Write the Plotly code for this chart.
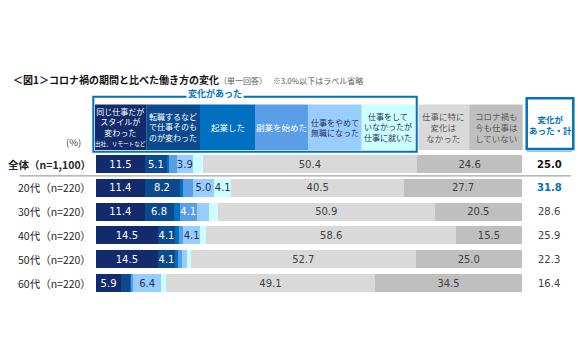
import plotly.graph_objects as go

# ---------------- data ----------------
categories = ["全体（n=1,100）", "20代（n=220）", "30代（n=220）", "40代（n=220）", "50代（n=220）", "60代（n=220）"]
series_names = [
    "同じ仕事だがスタイルが変わった",
    "転職するなどで仕事そのものが変わった",
    "起業した",
    "副業を始めた",
    "仕事をやめて無職になった",
    "仕事をしていなかったが仕事に就いた",
    "仕事に特に変化はなかった",
    "コロナ禍も今も仕事はしていない",
]
same_job_style = [11.5, 11.4, 11.4, 14.5, 14.5, 5.9]
job_changed = [5.1, 8.2, 6.8, 4.1, 4.1, 2.3]
started_business = [0.6, 0.9, 1.4, 0.9, 0.6, 0.2]
side_job = [1.7, 2.2, 4.1, 0.9, 1.0, 0.4]
quit_job = [3.9, 5.0, 2.8, 4.1, 1.2, 6.4]
got_job = [2.2, 4.1, 2.1, 1.4, 0.9, 1.2]
no_change = [50.4, 40.5, 50.9, 58.6, 52.7, 49.1]
no_work = [24.6, 27.7, 20.5, 15.5, 25.0, 34.5]
changed_total = [25.0, 31.8, 28.6, 25.9, 22.3, 16.4]

header_texts = [
    "同じ仕事だが<br>スタイルが<br>変わった<br><span style='font-size:5.6px'>出社、リモートなど</span>",
    "転職するなど<br>で仕事そのも<br>のが変わった",
    "起業した",
    "副業を始めた",
    "仕事をやめて<br>無職になった",
    "仕事をして<br>いなかったが<br>仕事に就いた",
    "仕事に特に<br>変化は<br>なかった",
    "コロナ禍も<br>今も仕事は<br>していない",
]

# ---------------- style ----------------
colors = ["#112b6c", "#0b4a8e", "#0070c0", "#5b9ee8", "#99ccff", "#ccffff", "#d9d9d9", "#bfbfbf"]
text_colors = ["white", "white", "white", "white", "#1f3060", "#1f3060", "#404040", "#404040"]
header_text_colors = ["white", "white", "white", "white", "#1f3060", "#1f3060", "#595959", "#595959"]
header_sizes = [8, 8, 8.5, 8.5, 8, 8, 8.5, 8.5]
BLUE = "#0070c0"
JP = "Noto Sans CJK JP"
NUM = "Verdana, DejaVu Sans"

W, H = 580, 360
def px(x):
    return x / W
def py(y):
    return 1 - y / H

all_series = [same_job_style, job_changed, started_business, side_job, quit_job, got_job, no_change, no_work]

fig = go.Figure()
for name, vals, col, tcol in zip(series_names, all_series, colors, text_colors):
    labels = [f"{v:.1f}" if v > 3.0 else "" for v in vals]
    fig.add_trace(go.Bar(
        y=categories, x=vals, name=name, orientation="h",
        marker=dict(color=col, line=dict(width=0)),
        text=labels, textposition="inside", insidetextanchor="middle",
        textangle=0, constraintext="none", cliponaxis=False,
        textfont=dict(family=NUM, size=10, color=tcol),
        hoverinfo="skip",
    ))

fig.update_layout(
    width=W, height=H, barmode="stack", bargap=0.24,
    margin=dict(l=0, r=0, t=0, b=0),
    paper_bgcolor="white", plot_bgcolor="white",
    showlegend=False,
    uniformtext=dict(mode=False),
    xaxis=dict(domain=[px(96), px(522)], range=[0, 100], visible=False, fixedrange=True),
    yaxis=dict(domain=[py(294.9), py(152.1)], categoryorder="array", categoryarray=categories,
               autorange="reversed", visible=False, fixedrange=True),
)

annotations = []
shapes = []

# category labels
for i, c in enumerate(categories):
    txt = f"<b>{c}</b>" if i == 0 else c
    annotations.append(dict(x=px(93), xref="paper", y=c, yref="y", text=txt, showarrow=False,
                            xanchor="right", yanchor="middle",
                            font=dict(family=JP, size=10.5, color="#262626")))

# totals column
for i, (c, v) in enumerate(zip(categories, changed_total)):
    if i == 0:
        txt, col = f"<b>{v:.1f}</b>", "#111111"
    elif v == max(changed_total[1:]):
        txt, col = f"<b>{v:.1f}</b>", BLUE
    else:
        txt, col = f"{v:.1f}", "#404040"
    annotations.append(dict(x=px(549), xref="paper", y=c, yref="y", text=txt, showarrow=False,
                            xanchor="center", yanchor="middle",
                            font=dict(family=NUM, size=10, color=col)))

# separator under 全体
shapes.append(dict(type="line", xref="paper", yref="y", x0=px(20), x1=px(571),
                   y0=0.5, y1=0.5, line=dict(color="#8c8c8c", width=1)))

# header cells
cell_edges = [(95, 146.7), (146.7, 200), (200, 255), (255, 308.3), (308.3, 361.7), (361.7, 415),
              (418.3, 469.3), (469.3, 522.7)]
for (x0, x1), col, txt, tcol, fs in zip(cell_edges, colors, header_texts, header_text_colors, header_sizes):
    shapes.append(dict(type="rect", xref="paper", yref="paper", x0=px(x0), x1=px(x1),
                       y0=py(150), y1=py(104.5), fillcolor=col, line=dict(width=0), layer="below"))
    annotations.append(dict(x=px((x0 + x1) / 2), y=py(127.3), xref="paper", yref="paper",
                            text=txt, showarrow=False, xanchor="center", yanchor="middle",
                            font=dict(family=JP, size=fs, color=tcol)))

# outline around "変化があった" group
shapes.append(dict(type="rect", xref="paper", yref="paper", x0=px(93.3), x1=px(416.7),
                   y0=py(151.7), y1=py(96.7), line=dict(color=BLUE, width=2), fillcolor="rgba(0,0,0,0)"))
annotations.append(dict(x=px(215), y=py(94), xref="paper", yref="paper", text="<b>変化があった</b>",
                        showarrow=False, xanchor="center", yanchor="middle", bgcolor="white",
                        borderpad=1, font=dict(family=JP, size=9, color=BLUE)))

# total box header
shapes.append(dict(type="rect", xref="paper", yref="paper", x0=px(526.7), x1=px(573.3),
                   y0=py(149), y1=py(98.3), line=dict(color=BLUE, width=2.5), fillcolor="white"))
shapes.append(dict(type="line", xref="paper", yref="paper", x0=px(527), x1=px(572),
                   y0=py(151.3), y1=py(151.3), line=dict(color="#9dc3e6", width=1.5)))
annotations.append(dict(x=px(550), y=py(124), xref="paper", yref="paper", text="<b>変化が<br>あった・計</b>",
                        showarrow=False, xanchor="center", yanchor="middle",
                        font=dict(family=JP, size=8.5, color=BLUE)))

# (%) label
annotations.append(dict(x=px(73), y=py(142), xref="paper", yref="paper", text="(%)", showarrow=False,
                        xanchor="center", yanchor="middle", font=dict(family=JP, size=9.5, color="#404040")))

# title
annotations.append(dict(x=px(11), y=py(79), xref="paper", yref="paper",
                        text="<b>＜図1＞コロナ禍の期間と比べた働き方の変化</b>"
                             "<span style='font-size:8px;color:#595959'>（単一回答）　 ※3.0%以下はラベル省略</span>",
                        showarrow=False, xanchor="left", yanchor="middle",
                        font=dict(family=JP, size=10, color="#111111")))

fig.update_layout(annotations=annotations, shapes=shapes)
fig.write_html("out.html", config={"displayModeBar": False},
               post_script="document.body.style.margin='0';document.body.style.overflow='hidden';")
